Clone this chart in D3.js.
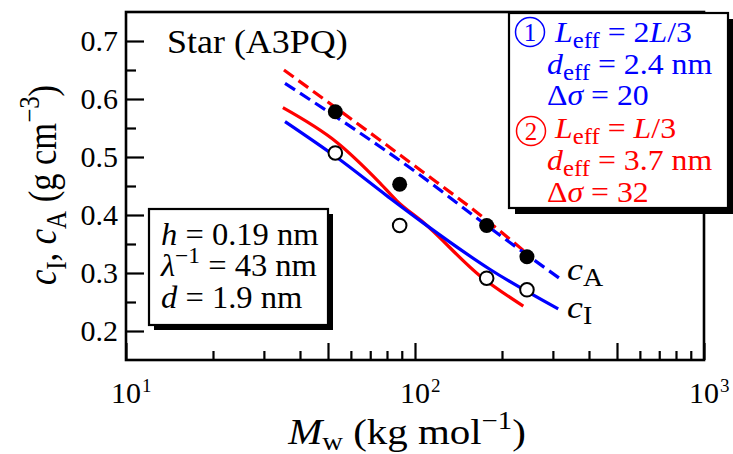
<!DOCTYPE html>
<html><head><meta charset="utf-8">
<script src="https://cdn.jsdelivr.net/npm/d3@7"></script>
<style>
html,body{margin:0;padding:0;background:#fff;}
svg{display:block;font-family:"Liberation Serif","Times New Roman",serif;}
</style></head>
<body>
<svg id="chart" width="733" height="454"></svg>
<script>
// ---------- data ----------
const sampleMw = [53, 88.5, 177, 244];
const cA_data  = [0.578, 0.453, 0.382, 0.328];
const cI_data  = [0.507, 0.382, 0.291, 0.271];

// model curves (Mw, c)
const model1_cI_Mw = [35.5, 53.7, 80, 107, 182, 313];
const model1_cI    = [0.561, 0.499, 0.433, 0.386, 0.306, 0.238];
const model2_cI_Mw = [34.9, 53.7, 75.7, 86.7, 107, 168, 237];
const model2_cI    = [0.585, 0.525, 0.455, 0.424, 0.387, 0.295, 0.243];
const model1_cA_Mw = [35.5, 104, 177, 318];
const model1_cA    = [0.627, 0.469, 0.382, 0.290];
const model2_cA_Mw = [35.2, 104, 168, 237];
const model2_cA    = [0.650, 0.478, 0.400, 0.339];

const yMajorTicks = [0.2, 0.3, 0.4, 0.5, 0.6, 0.7];
const yMinorTicks = [0.25, 0.35, 0.45, 0.55, 0.65];
const xMajorTicks = [10, 50, 100, 500, 1000];
const xMinorTicks = [20, 30, 40, 60, 70, 80, 90, 200, 300, 400, 600, 700, 800, 900];
const xLabelTicks = [10, 100, 1000];
const xLabelExp   = ["1", "2", "3"];

const BLUE = "#0000ff", RED = "#ff0000";

// ---------- layout ----------
const svg = d3.select("#chart");
const L = 126, R = 704, T = 12, B = 360;
const x = d3.scaleLog().domain([10, 1000]).range([L, R]);
const y = d3.scaleLinear().domain([0.15, 0.75]).range([B, T]);

// rich text: parts with italic / sub / sup, optional horizontal stretch and rotation
function rich(parent, px, py, parts, size, color, o) {
  o = o || {};
  const sx = o.sx || 1;
  const g = parent.append("g")
    .attr("transform", `translate(${px},${py}) scale(${sx},1)` + (o.rotate ? ` rotate(${o.rotate})` : ""));
  const t = g.append("text")
    .attr("x", 0).attr("y", 0)
    .attr("font-size", size).attr("fill", color || "#000")
    .attr("text-anchor", o.anchor || "start");
  const subS = o.subSize || 0.72, subD = o.subShift || 0.26, supD = o.supShift || 0.42;
  let cur = 0;
  parts.forEach(p => {
    const shift = p.sub ? size * subD : p.sup ? -size * supD : 0;
    const ts = t.append("tspan").text(p.t).attr("dy", shift - cur);
    cur = shift;
    if (p.i) ts.attr("font-style", "italic");
    if (p.sub || p.sup) ts.attr("font-size", size * subS);
  });
  return t;
}

// ---------- curves ----------
const line = d3.line().x(d => x(d[0])).y(d => y(d[1])).curve(d3.curveMonotoneX);
const curves = [
  {Mw: model2_cA_Mw, c: model2_cA, color: RED, dash: "12,6"},
  {Mw: model1_cA_Mw, c: model1_cA, color: BLUE, dash: "12,6"},
  {Mw: model2_cI_Mw, c: model2_cI, color: RED, dash: null},
  {Mw: model1_cI_Mw, c: model1_cI, color: BLUE, dash: null},
];
curves.forEach(cv => {
  svg.append("path")
    .datum(cv.Mw.map((m, i) => [m, cv.c[i]]))
    .attr("d", line).attr("fill", "none")
    .attr("stroke", cv.color).attr("stroke-width", 3.2)
    .attr("stroke-dasharray", cv.dash);
});

// ---------- points ----------
svg.selectAll("circle.cA").data(sampleMw.map((m, i) => [m, cA_data[i]]))
  .join("circle").attr("class", "cA")
  .attr("cx", d => x(d[0])).attr("cy", d => y(d[1])).attr("r", 7.5)
  .attr("fill", "#000");
svg.selectAll("circle.cI").data(sampleMw.map((m, i) => [m, cI_data[i]]))
  .join("circle").attr("class", "cI")
  .attr("cx", d => x(d[0])).attr("cy", d => y(d[1])).attr("r", 6.8)
  .attr("fill", "#fff").attr("stroke", "#000").attr("stroke-width", 2);

// ---------- axes ----------
const yAxis = svg.append("g").attr("transform", `translate(${L},0)`)
  .call(d3.axisLeft(y).tickValues(yMajorTicks).tickSizeInner(-18).tickSizeOuter(0)
    .tickPadding(8).tickFormat(d3.format(".1f")));
yAxis.attr("font-family", null).attr("font-size", null);
yAxis.selectAll("text").attr("font-size", 30)
  .attr("dy", "0.33em").attr("fill", "#000");
svg.append("g").attr("transform", `translate(${L},0)`)
  .call(d3.axisLeft(y).tickValues(yMinorTicks).tickSizeInner(-10).tickSizeOuter(0).tickFormat(""));

svg.append("g").attr("transform", `translate(0,${B})`)
  .call(d3.axisBottom(x).tickValues(xMajorTicks).tickSizeInner(-17).tickSizeOuter(0).tickFormat(""));
svg.append("g").attr("transform", `translate(0,${B})`)
  .call(d3.axisBottom(x).tickValues(xMinorTicks).tickSizeInner(-9).tickSizeOuter(0).tickFormat(""));

svg.selectAll(".domain").remove();
svg.selectAll(".tick line").attr("stroke", "#000").attr("stroke-width", 2.2);

// frame
svg.append("rect").attr("x", L).attr("y", T).attr("width", R - L).attr("height", B - T)
  .attr("fill", "none").attr("stroke", "#000").attr("stroke-width", 2.6);

// x tick labels (10^n)
xLabelTicks.forEach((v, i) => {
  const cx = x(v);
  svg.append("text").attr("x", cx).attr("y", 403).attr("text-anchor", "middle")
    .attr("font-size", 30).text("10");
  svg.append("text").attr("x", cx + 16).attr("y", 392).attr("font-size", 19).text(xLabelExp[i]);
});

// axis titles
rich(svg, 407, 444, [{t: "M", i: 1}, {t: "w", sub: 1}, {t: " (kg mol"}, {t: "−1", sup: 1}, {t: ")"}],
  35, "#000", {anchor: "middle", sx: 1.17, subShift: 0.17, subSize: 0.7});
rich(svg, 56, 185, [{t: "c", i: 1}, {t: "I", sub: 1}, {t: ", "}, {t: "c", i: 1}, {t: "A", sub: 1},
  {t: " (g cm"}, {t: "−3", sup: 1}, {t: ")"}], 34.5, "#000", {anchor: "middle", sx: 1.15, rotate: -90});

// title
rich(svg, 167, 53, [{t: "Star (A3PQ)"}], 33, "#000", {sx: 1.09});

// curve labels
rich(svg, 567, 280, [{t: "c", i: 1}, {t: "A", sub: 1}], 32, "#000", {sx: 1.12, subSize: 0.78, subShift: 0.2});
rich(svg, 567, 318, [{t: "c", i: 1}, {t: "I", sub: 1}], 32, "#000", {sx: 1.12, subSize: 0.78, subShift: 0.2});

// ---------- box 1 (models) ----------
const b1 = {x: 509, y: 13, w: 219, h: 195};
svg.append("rect").attr("x", b1.x + 6).attr("y", b1.y + 6).attr("width", b1.w).attr("height", b1.h).attr("fill", "#000");
svg.append("rect").attr("x", b1.x).attr("y", b1.y).attr("width", b1.w).attr("height", b1.h)
  .attr("fill", "#fff").attr("stroke", "#000").attr("stroke-width", 2.2);

function circled(cx, cy, num, color) {
  svg.append("circle").attr("cx", cx).attr("cy", cy).attr("r", 14.5)
    .attr("fill", "none").attr("stroke", color).attr("stroke-width", 1.5);
  svg.append("text").attr("x", cx).attr("y", cy + 8.5).attr("text-anchor", "middle")
    .attr("font-size", 25).attr("fill", color).text(num);
}
const lo = {sx: 1.06, subSize: 0.78, subShift: 0.2};
circled(530, 32, "1", BLUE);
rich(svg, 555, 42, [{t: "L", i: 1}, {t: "eff", sub: 1}, {t: " = 2"}, {t: "L", i: 1}, {t: "/3"}], 30, BLUE, lo);
rich(svg, 547, 74, [{t: "d", i: 1}, {t: "eff", sub: 1}, {t: " = 2.4 nm"}], 30, BLUE, lo);
rich(svg, 547, 105, [{t: "Δ"}, {t: "σ", i: 1}, {t: " = 20"}], 30, BLUE, lo);
circled(531, 131, "2", RED);
rich(svg, 555, 138, [{t: "L", i: 1}, {t: "eff", sub: 1}, {t: " = "}, {t: "L", i: 1}, {t: "/3"}], 30, RED, lo);
rich(svg, 547, 170, [{t: "d", i: 1}, {t: "eff", sub: 1}, {t: " = 3.7 nm"}], 30, RED, lo);
rich(svg, 547, 202, [{t: "Δ"}, {t: "σ", i: 1}, {t: " = 32"}], 30, RED, lo);

// ---------- box 2 (parameters) ----------
const b2 = {x: 149, y: 209, w: 179, h: 116};
svg.append("rect").attr("x", b2.x + 5).attr("y", b2.y + 5).attr("width", b2.w).attr("height", b2.h).attr("fill", "#000");
svg.append("rect").attr("x", b2.x).attr("y", b2.y).attr("width", b2.w).attr("height", b2.h)
  .attr("fill", "#fff").attr("stroke", "#000").attr("stroke-width", 2.2);
const lo2 = {sx: 1.05};
rich(svg, 161, 245, [{t: "h", i: 1}, {t: " = 0.19 nm"}], 31, "#000", lo2);
rich(svg, 161, 276, [{t: "λ", i: 1}, {t: "−1", sup: 1}, {t: " = 43 nm"}], 31, "#000", lo2);
rich(svg, 161, 308, [{t: "d", i: 1}, {t: " = 1.9 nm"}], 31, "#000", lo2);
</script>
</body></html>
